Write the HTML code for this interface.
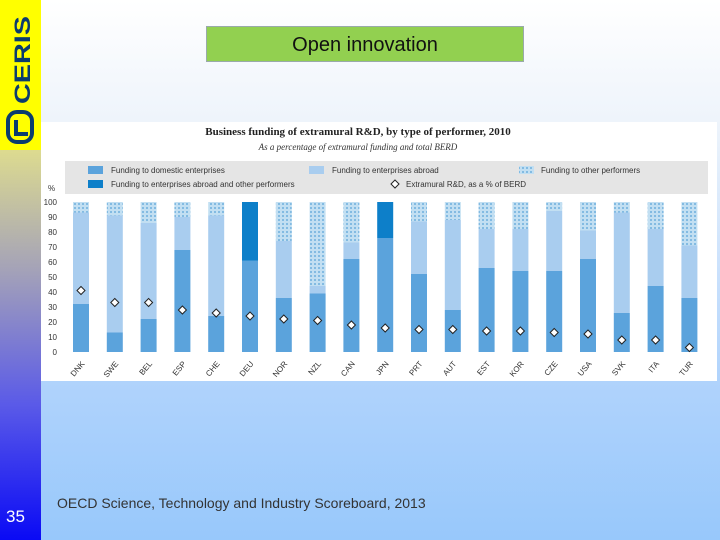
<!DOCTYPE html>
<html><head><meta charset="utf-8"><style>
body{margin:0;width:720px;height:540px;overflow:hidden;font-family:"Liberation Sans",sans-serif;position:relative;background:linear-gradient(#fff 0px,#eef4fb 120px,#b0d3fc 381px,#98c8fb 540px);}
#side{position:absolute;left:0;top:0;width:41px;height:540px;background:linear-gradient(#ffff00 0%,#e4e28a 25%,#a4a2b8 50%,#5a5ae8 75%,#0a0af5 100%);}
#logo{position:absolute;left:0;top:0;width:41px;height:150px;background:#ffff00;}
#num{position:absolute;left:6px;top:507px;font-size:17px;color:#fff;}
#title{position:absolute;left:206px;top:26px;width:318px;height:36px;background:#92d050;border:1px solid #9aa;box-sizing:border-box;text-align:center;line-height:36px;font-size:20px;color:#111;}
#chart{position:absolute;left:41px;top:122px;width:676px;height:259px;background:#fff;}
#src{position:absolute;left:57px;top:495px;font-size:14px;color:#333;}
</style></head><body>
<div id="side"></div>
<div id="logo">
<svg width="41" height="150"><text x="0" y="0" transform="translate(30 104) rotate(-90)" font-size="22" font-weight="bold" fill="#0b3c6e" font-family="Liberation Sans, sans-serif" textLength="88" lengthAdjust="spacingAndGlyphs">CERIS</text>
<g fill="none" stroke="#0b3c6e" stroke-width="4"><rect x="8" y="112" width="24" height="30" rx="9"/><path d="M16 120 V134 H28"/></g></svg></div>
<div id="num">35</div>
<div id="title">Open innovation</div>
<div id="chart">
<svg id="svg" width="676" height="259" font-family="Liberation Sans, sans-serif">
<defs><pattern id="hatch" width="4" height="4" patternUnits="userSpaceOnUse"><rect width="4" height="4" fill="#c2dff2"/><circle cx="2" cy="2" r="1" fill="#6fb0dd"/></pattern></defs>
<text x="317" y="13" text-anchor="middle" font-size="11" font-weight="bold" font-family="Liberation Serif, serif" fill="#222">Business funding of extramural R&amp;D, by type of performer, 2010</text>
<text x="317" y="28" text-anchor="middle" font-size="9" font-style="italic" font-family="Liberation Serif, serif" fill="#333">As a percentage of extramural funding and total BERD</text>
<rect x="24" y="39" width="643" height="33" fill="#e5e5e5"/>
<g font-size="8" fill="#333">
<rect x="47" y="44" width="15" height="8" fill="#5ba3dc"/><text x="70" y="51">Funding to domestic enterprises</text>
<rect x="268" y="44" width="15" height="8" fill="#a9cdef"/><text x="291" y="51">Funding to enterprises abroad</text>
<rect x="478" y="44" width="15" height="8" fill="url(#hatch)"/><text x="500" y="51">Funding to other performers</text>
<rect x="47" y="58" width="15" height="8" fill="#0d7fc9"/><text x="70" y="65">Funding to enterprises abroad and other performers</text>
<path d="M354 58 L358 62 L354 66 L350 62Z" fill="#fff" stroke="#222"/><text x="365" y="65">Extramural R&amp;D, as a % of BERD</text>
<text x="7" y="69">%</text>
</g>
<g id="plot"></g>
</svg></div>
<div id="src">OECD Science, Technology and Industry Scoreboard, 2013</div>
<script>
const categories=["DNK","SWE","BEL","ESP","CHE","DEU","NOR","NZL","CAN","JPN","PRT","AUT","EST","KOR","CZE","USA","SVK","ITA","TUR"];
const domestic=[32,13,22,68,24,61,36,39,62,76,52,28,56,54,54,62,26,44,36];
const abroad=[61,78,64,22,67,0,38,5,11,0,35,60,26,28,40,19,67,38,35];
const abroadOther=[0,0,0,0,0,39,0,0,0,24,0,0,0,0,0,0,0,0,0];
const other=[7,9,14,10,9,0,26,56,27,0,13,12,18,18,6,19,7,18,29];
const berdShare=[41,33,33,28,26,24,22,21,18,16,15,15,14,14,13,12,8,8,3];
const yTicks=[0,10,20,30,40,50,60,70,80,90,100];
const NS="http://www.w3.org/2000/svg";
const g=document.getElementById('plot');
const y=v=>230-v*1.5;
const x=i=>40+i*33.8;
const bw=16;
function mk(t,a){const e=document.createElementNS(NS,t);for(const k in a)e.setAttribute(k,a[k]);g.appendChild(e);return e;}
yTicks.forEach(t=>{const e=mk('text',{x:16,y:y(t)+3,'text-anchor':'end','font-size':8,fill:'#333'});e.textContent=t;

});
categories.forEach((c,i)=>{
 let base=0;
 [[domestic,'#5ba3dc','bar-domestic'],[abroad,'#a9cdef','bar-abroad'],[abroadOther,'#0d7fc9','bar-abroad-other'],[other,'url(#hatch)','bar-other']].forEach(([arr,col,nm])=>{
  const v=arr[i];if(v<=0)return;
  const r=mk('rect',{x:x(i)-bw/2,y:y(base+v),width:bw,height:y(base)-y(base+v),fill:col});
  
  
  base+=v;});
 const cy=y(berdShare[i]);
 const p=mk('path',{d:`M${x(i)} ${cy-4} L${x(i)+4} ${cy} L${x(i)} ${cy+4} L${x(i)-4} ${cy}Z`,fill:'#fff',stroke:'#222'});
 
 
 const t=mk('text',{x:x(i)+4,y:242,'text-anchor':'end','font-size':8,fill:'#333',transform:`rotate(-50 ${x(i)+4} 242)`});
 t.textContent=c;
 
 
});
</script>
</body></html>
